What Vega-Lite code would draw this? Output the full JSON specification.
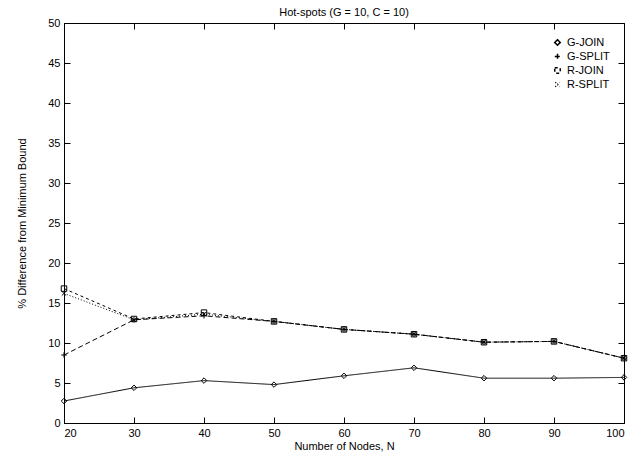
{
  "$schema": "https://vega.github.io/schema/vega-lite/v6.json",
  "width": 560,
  "height": 400,
  "autosize": {"type": "none"},
  "padding": {"left": 64, "top": 23, "right": 16, "bottom": 32},
  "background": "white",
  "title": {"text": "Hot-spots (G = 10, C = 10)", "font": "Liberation Sans", "fontSize": 11, "fontWeight": "normal", "offset": -1},
  "config": {
    "view": {"stroke": "black", "strokeWidth": 1},
    "axis": {"labelFont": "Liberation Sans", "titleFont": "Liberation Sans", "labelFontSize": 11, "titleFontSize": 11, "titleFontWeight": "normal", "grid": false, "domainColor": "black", "tickColor": "black", "labelColor": "black", "titleColor": "black", "tickSize": -6, "labelPadding": 10}
  },
  "resolve": {"axis": {"x": "independent", "y": "independent"}},
  "data": {"values": [
    {"N": 20, "s": "G-JOIN", "v": 2.75}, {"N": 30, "s": "G-JOIN", "v": 4.4}, {"N": 40, "s": "G-JOIN", "v": 5.3}, {"N": 50, "s": "G-JOIN", "v": 4.8}, {"N": 60, "s": "G-JOIN", "v": 5.9}, {"N": 70, "s": "G-JOIN", "v": 6.9}, {"N": 80, "s": "G-JOIN", "v": 5.6}, {"N": 90, "s": "G-JOIN", "v": 5.6}, {"N": 100, "s": "G-JOIN", "v": 5.7},
    {"N": 20, "s": "G-SPLIT", "v": 8.5}, {"N": 30, "s": "G-SPLIT", "v": 12.9}, {"N": 40, "s": "G-SPLIT", "v": 13.4}, {"N": 50, "s": "G-SPLIT", "v": 12.7}, {"N": 60, "s": "G-SPLIT", "v": 11.7}, {"N": 70, "s": "G-SPLIT", "v": 11.1}, {"N": 80, "s": "G-SPLIT", "v": 10.1}, {"N": 90, "s": "G-SPLIT", "v": 10.2}, {"N": 100, "s": "G-SPLIT", "v": 8.1},
    {"N": 20, "s": "R-JOIN", "v": 16.8}, {"N": 30, "s": "R-JOIN", "v": 13.0}, {"N": 40, "s": "R-JOIN", "v": 13.8}, {"N": 50, "s": "R-JOIN", "v": 12.7}, {"N": 60, "s": "R-JOIN", "v": 11.7}, {"N": 70, "s": "R-JOIN", "v": 11.1}, {"N": 80, "s": "R-JOIN", "v": 10.1}, {"N": 90, "s": "R-JOIN", "v": 10.2}, {"N": 100, "s": "R-JOIN", "v": 8.1},
    {"N": 20, "s": "R-SPLIT", "v": 16.2}, {"N": 30, "s": "R-SPLIT", "v": 12.9}, {"N": 40, "s": "R-SPLIT", "v": 13.6}, {"N": 50, "s": "R-SPLIT", "v": 12.7}, {"N": 60, "s": "R-SPLIT", "v": 11.7}, {"N": 70, "s": "R-SPLIT", "v": 11.1}, {"N": 80, "s": "R-SPLIT", "v": 10.1}, {"N": 90, "s": "R-SPLIT", "v": 10.2}, {"N": 100, "s": "R-SPLIT", "v": 8.1}
  ]},
  "layer": [
    {
      "mark": {"type": "line", "color": "black", "strokeWidth": 1},
      "encoding": {
        "x": {"field": "N", "type": "quantitative", "scale": {"domain": [20, 100], "nice": false}, "axis": {"values": [20, 30, 40, 50, 60, 70, 80, 90, 100], "title": "Number of Nodes, N", "titlePadding": 2}},
        "y": {"field": "v", "type": "quantitative", "scale": {"domain": [0, 50], "nice": false}, "axis": {"values": [0, 5, 10, 15, 20, 25, 30, 35, 40, 45, 50], "title": "% Difference from Minimum Bound", "titlePadding": 20}},
        "strokeDash": {"field": "s", "type": "nominal", "scale": {"domain": ["G-JOIN", "G-SPLIT", "R-JOIN", "R-SPLIT"], "range": [[1, 0], [5, 3], [3, 3], [1, 2]]}, "legend": {"title": null, "orient": "top-right", "offset": 14, "labelFont": "Liberation Sans", "labelFontSize": 11, "labelColor": "black", "symbolStrokeColor": "black", "symbolSize": 30, "rowPadding": 1}}
      }
    },
    {
      "mark": {"type": "point", "color": "black", "filled": false, "strokeWidth": 1, "size": 30, "opacity": 1},
      "encoding": {
        "x": {"field": "N", "type": "quantitative", "axis": {"orient": "top", "labels": false, "title": null, "values": [20, 30, 40, 50, 60, 70, 80, 90, 100]}},
        "y": {"field": "v", "type": "quantitative", "axis": {"orient": "right", "labels": false, "title": null, "values": [0, 5, 10, 15, 20, 25, 30, 35, 40, 45, 50]}},
        "shape": {"field": "s", "type": "nominal", "scale": {"domain": ["G-JOIN", "G-SPLIT", "R-JOIN", "R-SPLIT"], "range": ["diamond", "M-1,0L1,0M0,-1L0,1", "square", "M-0.8,-0.8L0.8,0.8M-0.8,0.8L0.8,-0.8"]}, "legend": {"title": null, "orient": "top-right"}}
      }
    }
  ]
}
